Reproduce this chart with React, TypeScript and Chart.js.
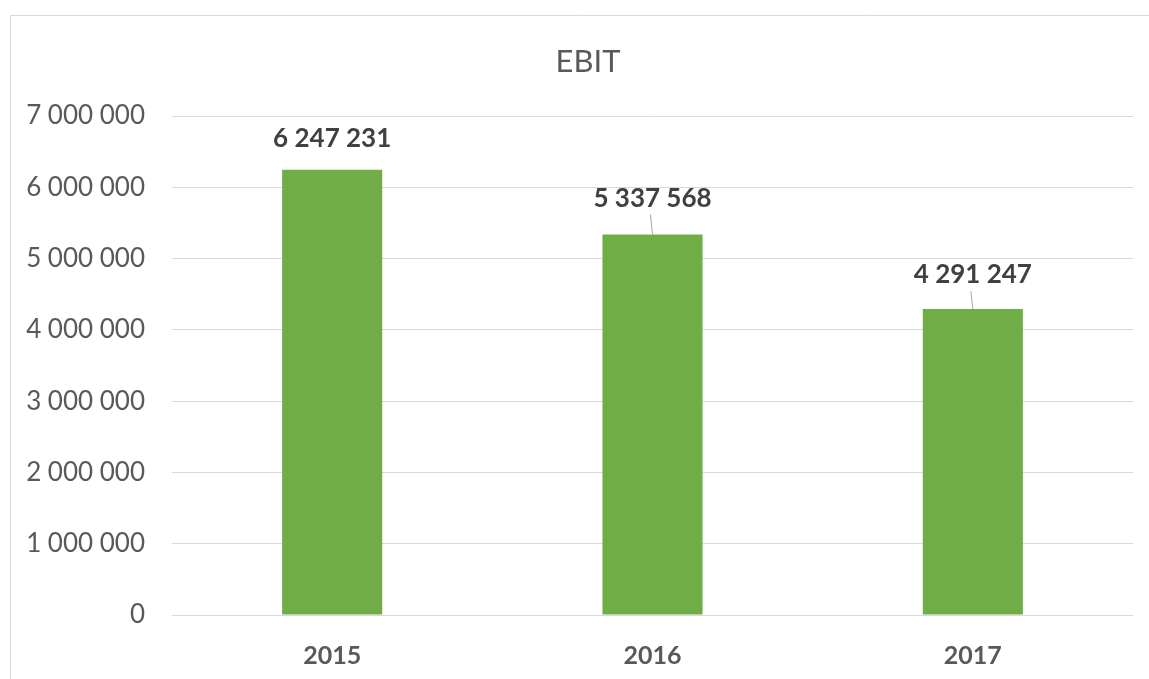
import React, { useEffect, useRef } from "react";
import { Chart, registerables } from "chart.js";

Chart.register(...registerables);

const categories = ["2015", "2016", "2017"];
const ebitValues = [6247231, 5337568, 4291247];
const yTicks = [0, 1000000, 2000000, 3000000, 4000000, 5000000, 6000000, 7000000];
const chartTitle = "EBIT";

const labelOffsets = [31, 36, 34];
const leaderLines = [false, true, true];

const FONT = "Lato, 'Open Sans', sans-serif";

const fmt = (v: number) =>
  Math.round(v)
    .toString()
    .replace(/\B(?=(\d{3})+(?!\d))/g, " ");

const decorPlugin = {
  id: "decor",
  beforeDraw(chart: any) {
    const ctx = chart.ctx;
    ctx.save();
    ctx.fillStyle = "#ffffff";
    ctx.fillRect(0, 0, chart.width, chart.height);
    ctx.strokeStyle = "#D9D9D9";
    ctx.lineWidth = 1;
    ctx.beginPath();
    ctx.moveTo(10.5, chart.height);
    ctx.lineTo(10.5, 15.5);
    ctx.lineTo(chart.width, 15.5);
    ctx.stroke();
    ctx.fillStyle = "#595959";
    ctx.font = `31px ${FONT}`;
    ctx.textAlign = "center";
    ctx.textBaseline = "middle";
    ctx.fillText(chartTitle, 588, 62);
    ctx.restore();
  },
  afterDatasetsDraw(chart: any) {
    const ctx = chart.ctx;
    const meta = chart.getDatasetMeta(0);
    ctx.save();
    ctx.font = `bold 26px ${FONT}`;
    ctx.fillStyle = "#404040";
    ctx.textAlign = "center";
    ctx.textBaseline = "middle";
    meta.data.forEach((bar: any, i: number) => {
      const v = chart.data.datasets[0].data[i];
      const ly = bar.y - labelOffsets[i];
      ctx.fillText(fmt(v), bar.x, ly);
      if (leaderLines[i]) {
        ctx.strokeStyle = "#A6A6A6";
        ctx.lineWidth = 1;
        ctx.beginPath();
        ctx.moveTo(bar.x - 2, ly + 16);
        ctx.lineTo(bar.x, bar.y);
        ctx.stroke();
      }
    });
    ctx.restore();
  },
};

export default function App() {
  const ref = useRef<HTMLCanvasElement>(null);
  useEffect(() => {
    if (!ref.current) return;
    const chart = new Chart(ref.current, {
      type: "bar",
      data: {
        labels: categories,
        datasets: [
          {
            data: ebitValues,
            backgroundColor: "#70AD47",
            categoryPercentage: 1,
            barPercentage: 0.3125,
          },
        ],
      },
      options: {
        responsive: false,
        animation: false,
        layout: { padding: { top: 116, right: 16, left: 0, bottom: 0 } },
        plugins: {
          legend: { display: false },
          title: { display: false },
          tooltip: { enabled: false },
        },
        scales: {
          x: {
            grid: { display: false, drawTicks: false },
            border: { display: false },
            ticks: {
              color: "#595959",
              font: { family: FONT, size: 25, weight: "bold" },
              padding: 26,
            },
            afterFit: (s: any) => {
              s.height = 64;
            },
          },
          y: {
            min: 0,
            max: 7000000,
            afterBuildTicks: (s: any) => {
              s.ticks = yTicks.map((v) => ({ value: v }));
            },
            grid: { color: "#D9D9D9", lineWidth: 1, drawTicks: false },
            border: { display: false },
            ticks: {
              color: "#595959",
              font: { family: FONT, size: 26 },
              padding: 27,
              callback: (v: any) => fmt(Number(v)),
            },
            afterFit: (s: any) => {
              s.width = 172;
            },
          },
        },
      },
      plugins: [decorPlugin],
    });
    return () => chart.destroy();
  }, []);
  return (
    <canvas
      ref={ref}
      width={1149}
      height={679}
      style={{ position: "fixed", left: 0, top: 0, width: 1149, height: 679 }}
    />
  );
}
